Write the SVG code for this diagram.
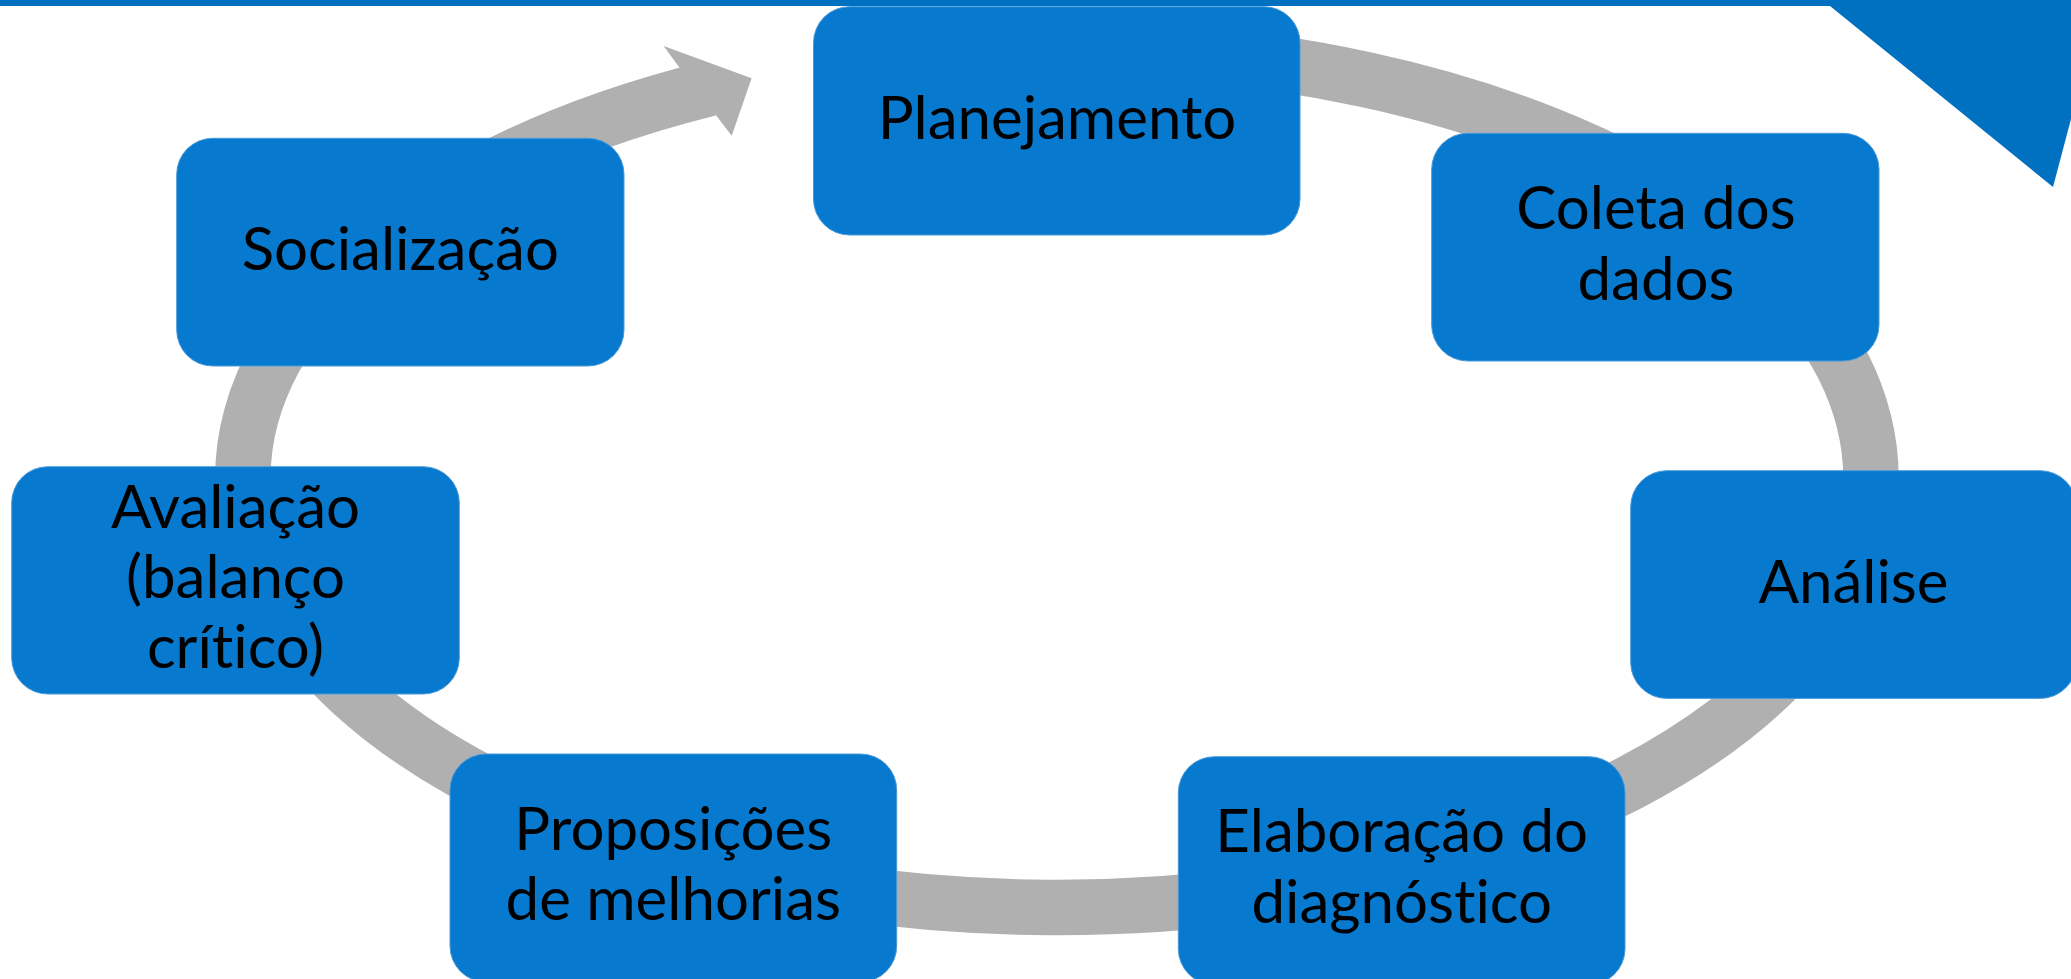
<svg xmlns="http://www.w3.org/2000/svg" width="2071" height="979" viewBox="0 0 2071 979">
<style>
.box{fill:#0779CF;stroke:#4a9ad8;stroke-width:1}
.lbl{font-family:Lato,"Liberation Sans",sans-serif;font-size:60px;fill:#000;text-anchor:middle;font-variant-ligatures:none;font-feature-settings:"liga" 0,"clig" 0}
.ring{fill:none;stroke:#B0B0B0;stroke-width:55.5}
</style>
<rect width="2071" height="979" fill="#fff"/>
<g id="decor">
<rect x="0" y="0" width="1831" height="6" fill="#0070C0"/>
<polygon points="1829,0 2071,0 2071,119 2053,187 1830,6" fill="#0070C0"/>
</g>
<g id="connectors">
<path class="ring" d="M1000,48.5 A814,430 0 1 1 709,88.7"/>
<polygon points="680,68.3 663.6,46 751.6,78.3 731.7,135.7 715.2,114.3" fill="#B0B0B0"/>
</g>
<g id="planejamento">
<rect class="box" x="813.5" y="6.7" width="486.5" height="228.3" rx="36"/>
<text class="lbl" x="1057" y="139.3">Planejamento</text>
</g>
<g id="coleta">
<rect class="box" x="1431.7" y="133.3" width="447.3" height="227.7" rx="36"/>
<text class="lbl" x="1656" y="229">Coleta dos</text>
<text class="lbl" x="1656" y="300">dados</text>
</g>
<g id="analise">
<rect class="box" x="1630.7" y="470.7" width="445.6" height="227.7" rx="36"/>
<text class="lbl" x="1853.5" y="603">Análise</text>
</g>
<g id="elaboracao">
<rect class="box" x="1178.3" y="756.7" width="446.7" height="228" rx="36"/>
<text class="lbl" x="1401.7" y="851.7">Elaboração do</text>
<text class="lbl" x="1401.7" y="923">diagnóstico</text>
</g>
<g id="proposicoes">
<rect class="box" x="450" y="754" width="446.7" height="228" rx="36"/>
<text class="lbl" x="673.3" y="850">Proposições</text>
<text class="lbl" x="673.3" y="920">de melhorias</text>
</g>
<g id="avaliacao">
<rect class="box" x="11.7" y="466.7" width="447.6" height="227.3" rx="36"/>
<text class="lbl" x="235.5" y="528.3">Avaliação</text>
<text class="lbl" x="235.5" y="598.3">(balanço</text>
<text class="lbl" x="235.5" y="668.3">crítico)</text>
</g>
<g id="socializacao">
<rect class="box" x="176.7" y="138.3" width="447.3" height="227.7" rx="36"/>
<text class="lbl" x="400.3" y="270">Socialização</text>
</g>
</svg>
